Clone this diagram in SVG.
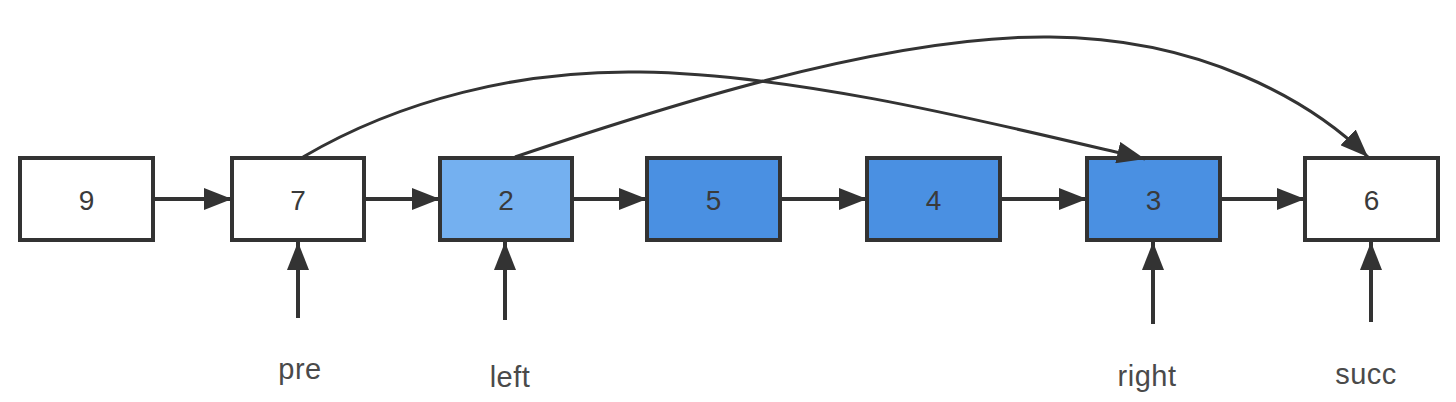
<svg xmlns="http://www.w3.org/2000/svg" width="1456" height="402" viewBox="0 0 1456 402">
<style>
.box{stroke:#333;stroke-width:4}
.w{fill:#fff}.lb{fill:#74b0f0}.b{fill:#4a90e2}
.num{font-family:"Liberation Sans",Arial,sans-serif;font-size:28px;fill:#3a3a3a;text-anchor:middle}
.lbl{font-family:"Liberation Sans",Arial,sans-serif;font-size:29px;fill:#4a4a4a;text-anchor:middle;letter-spacing:0.5px}
.c{fill:none;stroke:#333;stroke-width:4;marker-end:url(#ah)}
.cv{fill:none;stroke:#333;stroke-width:3;marker-end:url(#ah)}
</style>
<defs>
<marker id="ah" markerUnits="userSpaceOnUse" markerWidth="30" markerHeight="22" refX="28" refY="11" orient="auto">
<path d="M0,0 L28,11 L0,22 Z" fill="#333"/>
</marker>
</defs>
<rect width="1456" height="402" fill="#fff"/>
<g id="node-9"><rect class="box w" x="20" y="158" width="133" height="82"/><text class="num" x="86.5" y="210">9</text></g>
<g id="node-7"><rect class="box w" x="232" y="158" width="132" height="82"/><text class="num" x="298" y="210">7</text></g>
<g id="node-2"><rect class="box lb" x="440" y="158" width="132" height="82"/><text class="num" x="506" y="210">2</text></g>
<g id="node-5"><rect class="box b" x="647" y="158" width="133" height="82"/><text class="num" x="713.5" y="210">5</text></g>
<g id="node-4"><rect class="box b" x="867" y="158" width="133" height="82"/><text class="num" x="933.5" y="210">4</text></g>
<g id="node-3"><rect class="box b" x="1087" y="158" width="133" height="82"/><text class="num" x="1153.5" y="210">3</text></g>
<g id="node-6"><rect class="box w" x="1305" y="158" width="133" height="82"/><text class="num" x="1371.5" y="210">6</text></g>
<g id="label-pre"><text class="lbl" x="300" y="379">pre</text></g>
<g id="label-left"><text class="lbl" x="510" y="387">left</text></g>
<g id="label-right"><text class="lbl" x="1147" y="386">right</text></g>
<g id="label-succ"><text class="lbl" x="1366" y="384">succ</text></g>
<g id="connectors">
<path class="c" d="M153,199 H232"/>
<path class="c" d="M364,199 H440"/>
<path class="c" d="M572,199 H647"/>
<path class="c" d="M780,199 H867"/>
<path class="c" d="M1000,199 H1087"/>
<path class="c" d="M1220,199 H1305"/>
<path class="c" d="M298,318 V242"/>
<path class="c" d="M505,320 V242"/>
<path class="c" d="M1153,324 V242"/>
<path class="c" d="M1371,322 V242"/>
<path class="cv" d="M303,157 C400,100 520,70 640,72 C800,74 1000,125 1145,159"/>
<path class="cv" d="M515,157 C640,115 880,35 1050,37 C1200,38 1310,100 1368,157"/>
</g>
</svg>
